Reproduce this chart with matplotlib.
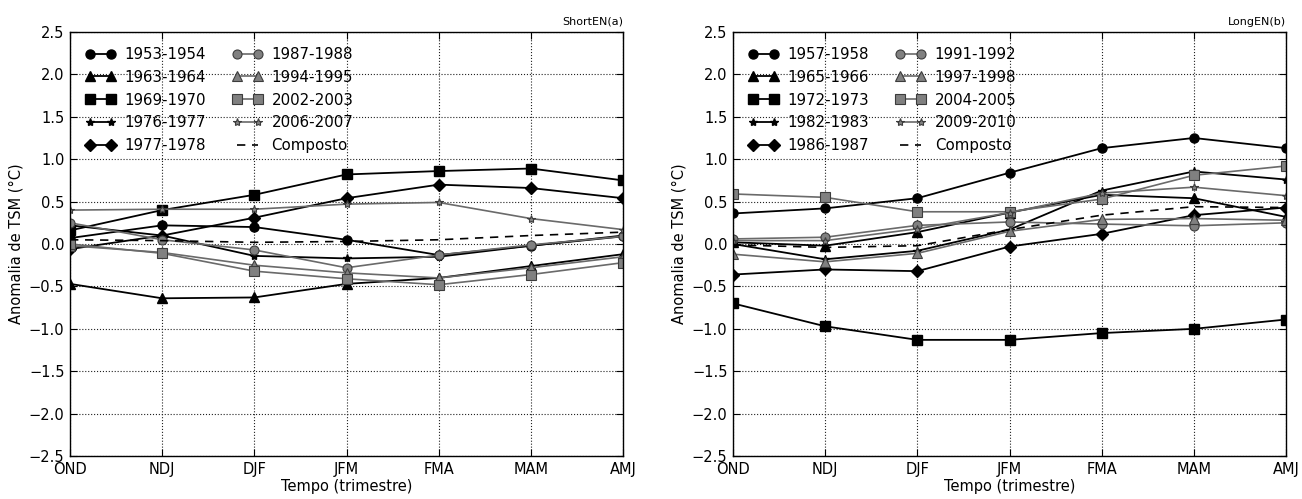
import matplotlib
matplotlib.use("Agg")
import matplotlib.pyplot as plt
import numpy as np

plt.rcParams['font.family'] = ['DejaVu Sans']

seasons = ["OND", "NDJ", "DJF", "JFM", "FMA", "MAM", "AMJ"]

# Panel (a) ShortEN
short_labels = ["1953-1954", "1963-1964", "1969-1970", "1976-1977", "1977-1978",
                "1987-1988", "1994-1995", "2002-2003", "2006-2007", "Composto"]
s1953 = [0.07, 0.22, 0.20, 0.05, -0.13, -0.02, 0.10]
s1963 = [-0.47, -0.64, -0.63, -0.47, -0.40, -0.26, -0.12]
s1969 = [0.16, 0.40, 0.58, 0.82, 0.86, 0.89, 0.75]
s1976 = [0.22, 0.10, -0.14, -0.17, -0.15, -0.02, 0.09]
s1977 = [-0.06, 0.10, 0.31, 0.54, 0.70, 0.66, 0.54]
s1987 = [0.25, 0.05, -0.07, -0.28, -0.13, -0.01, 0.09]
s1994 = [-0.02, -0.10, -0.25, -0.34, -0.40, -0.28, -0.15]
s2002 = [0.00, -0.11, -0.32, -0.41, -0.48, -0.36, -0.22]
s2006 = [0.40, 0.41, 0.41, 0.47, 0.49, 0.30, 0.17]
s_comp = [0.05, 0.04, 0.02, 0.03, 0.05, 0.10, 0.14]
short_series = [s1953, s1963, s1969, s1976, s1977, s1987, s1994, s2002, s2006, s_comp]

# Panel (b) LongEN
long_labels = ["1957-1958", "1965-1966", "1972-1973", "1982-1983", "1986-1987",
               "1991-1992", "1997-1998", "2004-2005", "2009-2010", "Composto"]
l1957 = [0.36, 0.42, 0.54, 0.84, 1.13, 1.25, 1.13]
l1965 = [0.02, -0.02, 0.14, 0.37, 0.58, 0.54, 0.32]
l1972 = [-0.70, -0.97, -1.13, -1.13, -1.05, -1.00, -0.89]
l1982 = [0.00, -0.18, -0.08, 0.17, 0.63, 0.855, 0.76]
l1986 = [-0.36, -0.30, -0.32, -0.03, 0.12, 0.34, 0.43]
l1991 = [0.06, 0.08, 0.22, 0.26, 0.235, 0.215, 0.25]
l1997 = [-0.12, -0.21, -0.11, 0.15, 0.29, 0.30, 0.28]
l2004 = [0.59, 0.55, 0.38, 0.38, 0.53, 0.81, 0.92]
l2009 = [0.04, 0.04, 0.18, 0.37, 0.60, 0.67, 0.57]
l_comp = [-0.01, -0.04, -0.02, 0.17, 0.34, 0.44, 0.43]
long_series = [l1957, l1965, l1972, l1982, l1986, l1991, l1997, l2004, l2009, l_comp]

markers = ['o', '^', 's', '*', 'D', 'o', '^', 's', '*', None]
msizes = [6.5, 6.5, 6.5, 6, 6.5, 6.5, 6.5, 6.5, 6, 0]

BLACK = 'black'
GRAY_LINE = '#6a6a6a'
GRAY_FACE = '#808080'
GRAY_EDGE = '#3c3c3c'

fig = plt.figure(figsize=(13.02, 4.99), dpi=100)
ax1 = fig.add_axes([0.0538, 0.086, 0.4247, 0.850])
ax2 = fig.add_axes([0.5630, 0.086, 0.4247, 0.850])

x = np.arange(len(seasons))

def draw(ax, series, labels, tag):
    for i, (vals, lab) in enumerate(zip(series, labels)):
        if i == 9:
            ax.plot(x, vals, '--', color='black', lw=1.2, label=lab, dashes=(5, 4))
        elif i < 5:
            ax.plot(x, vals, '-', color=BLACK, lw=1.3, marker=markers[i],
                    ms=msizes[i], mfc=BLACK, mec=BLACK, label=lab)
        else:
            ax.plot(x, vals, '-', color=GRAY_LINE, lw=1.2, marker=markers[i],
                    ms=msizes[i], mfc=GRAY_FACE, mec=GRAY_EDGE, mew=0.8, label=lab)
    ax.set_xlim(0, 6)
    ax.set_ylim(-2.5, 2.5)
    ax.set_xticks(x)
    ax.set_xticklabels(seasons, fontsize=10.5)
    yt = np.arange(-2.5, 2.51, 0.5)
    ax.set_yticks(yt)
    ax.set_yticklabels([f"{v:.1f}".replace('-', '\u2212') for v in yt], fontsize=10.5)
    ax.tick_params(direction='in', length=5, top=True, right=True, pad=4)
    ax.grid(True, linestyle=':', color='#222222', lw=0.8)
    ax.set_xlabel("Tempo (trimestre)", fontsize=10.5, labelpad=2)
    ax.set_ylabel("Anomalia de TSM (°C)", fontsize=10.5, labelpad=4)
    for sp in ax.spines.values():
        sp.set_linewidth(1.0)
    ax.legend(loc='upper left', ncol=2, frameon=False, fontsize=10.8,
              numpoints=2, handlelength=2.0, columnspacing=1.8,
              labelspacing=0.52, handletextpad=0.6, borderaxespad=0.6)
    ax.text(1.0, 1.012, tag, transform=ax.transAxes, ha='right', va='bottom', fontsize=8)

draw(ax1, short_series, short_labels, "ShortEN(a)")
draw(ax2, long_series, long_labels, "LongEN(b)")

fig.savefig("out.png", dpi=100)
